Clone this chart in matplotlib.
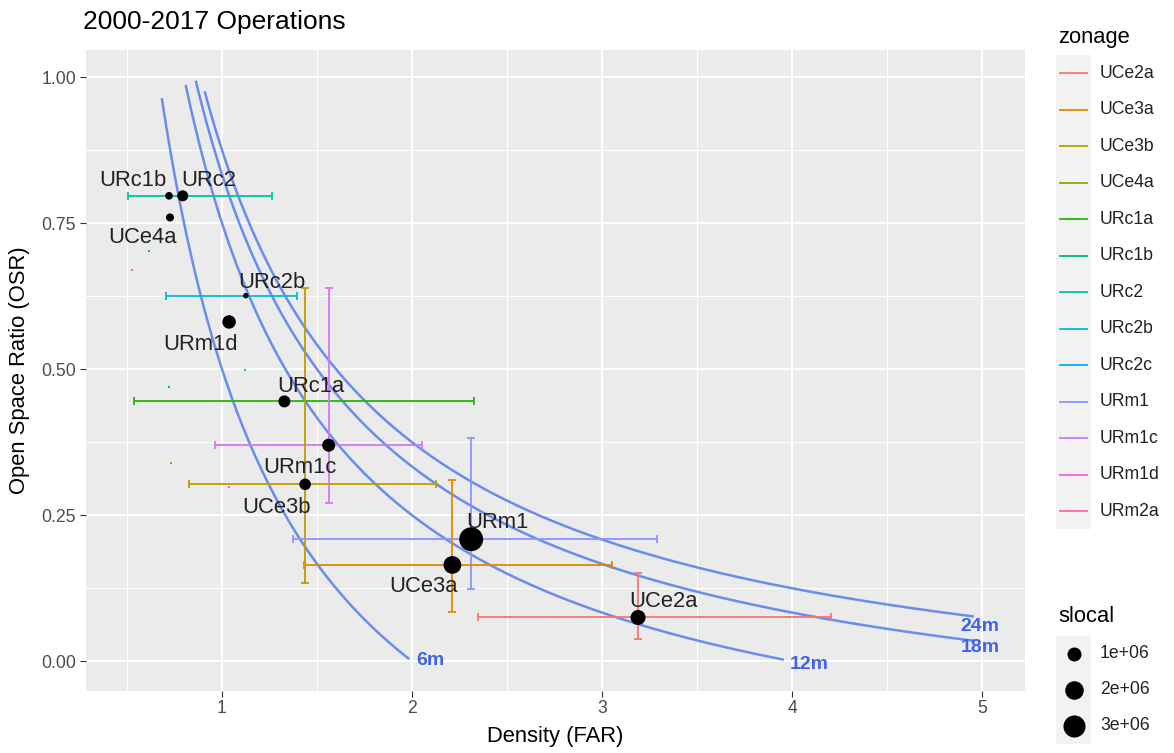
import numpy as np
import matplotlib
matplotlib.use('Agg')
import matplotlib.pyplot as plt

plt.rcParams['font.family'] = ['Liberation Sans', 'DejaVu Sans']

# legend levels (ggplot hue palette, 13 levels)
zones = ['UCe2a', 'UCe3a', 'UCe3b', 'UCe4a', 'URc1a', 'URc1b', 'URc2',
         'URc2b', 'URc2c', 'URm1', 'URm1c', 'URm1d', 'URm2a']
zone_colors = ['#F8766D', '#E18A00', '#BE9C00', '#8CAB00', '#24B700', '#00BE70',
               '#00C1AB', '#00BBDA', '#00ACFC', '#8B93FF', '#D575FE', '#F962DD',
               '#FF65AC']

# operations (weighted means) and their ranges
pt_zone = ['URc1b', 'URc2', 'UCe4a', 'URc2b', 'URm1d', 'URc1a', 'URm1c',
           'UCe3b', 'URm1', 'UCe3a', 'UCe2a']
far = [0.721, 0.793, 0.726, 1.125, 1.037, 1.328, 1.561, 1.437, 2.311, 2.212, 3.189]
osr = [0.797, 0.797, 0.760, 0.626, 0.581, 0.445, 0.370, 0.303, 0.209, 0.165, 0.075]
slocal = [1.8e5, 5.3e5, 2.1e5, 5.2e4, 9.1e5, 6.7e5, 8.3e5, 6.0e5, 3.6e6, 1.8e6, 1.19e6]

bar_zone = ['URc2', 'URc2b', 'URc1a', 'URm1c', 'UCe3b', 'URm1', 'UCe3a', 'UCe2a']
bar_far = [0.793, 1.125, 1.328, 1.561, 1.437, 2.311, 2.212, 3.189]
bar_osr = [0.797, 0.626, 0.445, 0.370, 0.303, 0.209, 0.165, 0.075]
far_lo = [0.507, 0.705, 0.537, 0.961, 0.824, 1.375, 1.432, 2.349]
far_hi = [1.262, 1.396, 2.326, 2.051, 2.126, 3.288, 3.054, 4.204]
osr_lo = [np.nan, np.nan, np.nan, 0.271, 0.134, 0.124, 0.084, 0.039]
osr_hi = [np.nan, np.nan, np.nan, 0.639, 0.639, 0.382, 0.310, 0.151]

# tiny (near zero-width) marks
tiny_zone = ['URc2c', 'URm2a', 'URc2', 'URc1b', 'UCe4a', 'URm1d']
tiny_far = [0.616, 0.525, 1.121, 0.721, 0.732, 1.037]
tiny_osr = [0.702, 0.670, 0.499, 0.470, 0.340, 0.299]

# text labels
lab_far = [0.532, 0.932, 0.584, 1.263, 0.884, 1.468, 1.411, 1.289, 2.447, 2.058, 3.321]
lab_osr = [0.824, 0.824, 0.725, 0.649, 0.542, 0.470, 0.331, 0.264, 0.237, 0.128, 0.102]

# iso-height curves (3 m per floor): OSR = 1/FAR - 1/floors
heights = [6, 12, 18, 24]
curve_start = [0.684, 0.81, 0.863, 0.91]
curve_end = [1.98, 3.95, 4.95, 4.95]
hlab_far = [2.095, 4.09, 4.99, 4.99]
hlab_osr = [0.002, -0.006, 0.023, 0.059]

size_breaks = [1e6, 2e6, 3e6]


def diam_pt(s):
    # diameter in px -> points
    d_px = 3 + 11 * np.sqrt(np.asarray(s) / 1e6)
    return d_px * 0.72


col = dict(zip(zones, zone_colors))

fig = plt.figure(figsize=(11.74, 7.53), dpi=100)
W, H = 1174, 753
ax = fig.add_axes([85.6 / W, (H - 690.5) / H, (1025 - 85.6) / W, (690.5 - 49.8) / H])
ax.set_facecolor('#EBEBEB')
for sp in ax.spines.values():
    sp.set_visible(False)
ax.set_xlim(0.282, 5.225)
ax.set_ylim(-0.05, 1.047)
ax.set_xticks([1, 2, 3, 4, 5])
ax.set_xticklabels(['1', '2', '3', '4', '5'])
ax.set_yticks([0, 0.25, 0.5, 0.75, 1.0])
ax.set_yticklabels(['0.00', '0.25', '0.50', '0.75', '1.00'])
ax.set_xticks([0.5, 1.5, 2.5, 3.5, 4.5], minor=True)
ax.set_yticks([0.125, 0.375, 0.625, 0.875], minor=True)
ax.grid(which='major', color='white', lw=1.5)
ax.grid(which='minor', color='white', lw=0.75)
ax.set_axisbelow(True)
ax.tick_params(which='major', length=4, width=0.8, color='#333333',
               labelsize=12.7, labelcolor='#4D4D4D', pad=3)
ax.tick_params(which='minor', length=0)
ax.set_xlabel('Density (FAR)', fontsize=15.8, labelpad=6)
ax.set_ylabel('Open Space Ratio (OSR)', fontsize=15.8, labelpad=8)

# curves
for h, a, b in zip(heights, curve_start, curve_end):
    fx = np.linspace(a, b, 300)
    ax.plot(fx, 1 / fx - 3.0 / h, color='#5B82EE', lw=1.8, alpha=0.9, zorder=2)
for h, x, y in zip(heights, hlab_far, hlab_osr):
    ax.text(x, y, f'{h}m', color='#3F62EE', fontsize=14, fontweight='bold',
            ha='center', va='center', zorder=5)

# error bars
for i, z in enumerate(bar_zone):
    c = col[z]
    ax.errorbar(bar_far[i], bar_osr[i],
                xerr=[[bar_far[i] - far_lo[i]], [far_hi[i] - bar_far[i]]],
                fmt='none', ecolor=c, elinewidth=1.3, capsize=3, capthick=1.3, zorder=3)
    if not np.isnan(osr_lo[i]):
        ax.errorbar(bar_far[i], bar_osr[i],
                    yerr=[[bar_osr[i] - osr_lo[i]], [osr_hi[i] - bar_osr[i]]],
                    fmt='none', ecolor=c, elinewidth=1.3, capsize=3, capthick=1.3, zorder=3)
for z, x, y in zip(tiny_zone, tiny_far, tiny_osr):
    ax.plot(x, y, 's', ms=1.5, color=col[z], mew=0, zorder=3)

# points
ax.scatter(far, osr, s=diam_pt(slocal) ** 2, color='black', linewidths=0, zorder=4)
for z, x, y in zip(pt_zone, lab_far, lab_osr):
    ax.text(x, y, z, fontsize=15.8, color='#222222', ha='center', va='center', zorder=6)

fig.text(83 / W, 1 - 22 / H, '2000-2017 Operations', fontsize=19, va='center')

# legends, drawn in pixel coordinates
lax = fig.add_axes([0, 0, 1, 1])
lax.set_xlim(0, W)
lax.set_ylim(H, 0)
lax.axis('off')

lax.text(1058, 37, 'zonage', fontsize=15.8, va='center', ha='left')
for i, z in enumerate(zones):
    y = 73 + 36.5 * i
    lax.add_patch(plt.Rectangle((1056, y - 18.25), 35, 36.5, facecolor='#F2F2F2',
                                edgecolor='none'))
    lax.plot([1060, 1087], [y, y], color=col[z], lw=1.3)
    lax.text(1100, y, z, fontsize=12.7, va='center', ha='left', color='#222222')

lax.text(1058, 617, 'slocal', fontsize=15.8, va='center', ha='left')
for i, s in enumerate(size_breaks):
    y = 654 + 36 * i
    lax.add_patch(plt.Rectangle((1056, y - 18), 35, 36, facecolor='#F2F2F2',
                                edgecolor='none'))
    lax.scatter([1073.5], [y], s=diam_pt(s) ** 2, color='black', linewidths=0)
    lax.text(1100, y, f'{int(s / 1e6)}e+06', fontsize=12.7, va='center', ha='left',
             color='#222222')

fig.savefig('out.png', dpi=100)
